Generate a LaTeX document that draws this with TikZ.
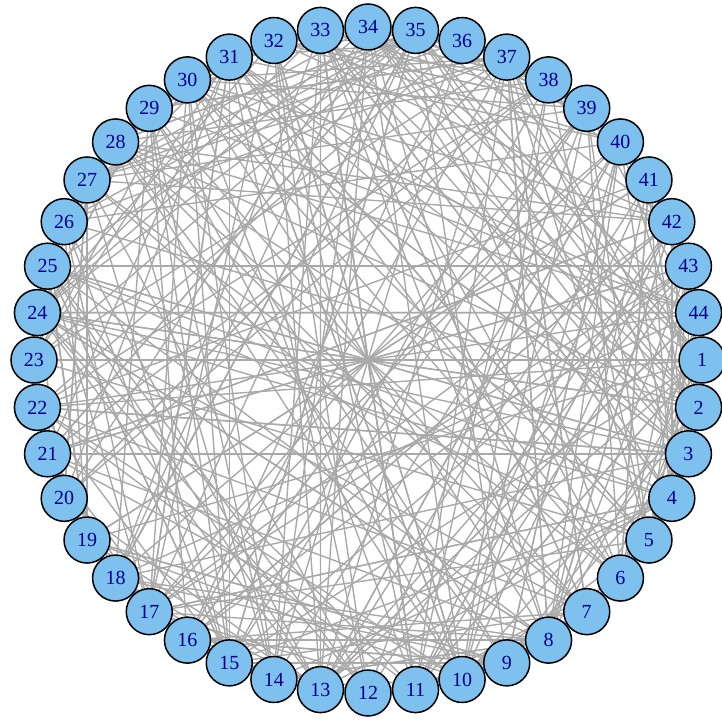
\documentclass[tikz,border=0pt]{standalone}
\usepackage{fontspec}
\setmainfont{Liberation Serif}
\usetikzlibrary{backgrounds}
\definecolor{vertexblue}{HTML}{7EC0EE}
\definecolor{vertexlabel}{HTML}{00008B}
\definecolor{edgegray}{HTML}{A9A9A9}
\tikzset{
  vertex/.style={circle, draw=black, line width=0.75pt, fill=vertexblue,
    minimum size=23pt, inner sep=0pt, text=vertexlabel,
    font=\fontsize{10}{12}\selectfont},
  edge/.style={draw=edgegray, line width=0.7pt}
}
\begin{document}
\begin{tikzpicture}[x=0.5pt, y=-0.5pt]
            \useasboundingbox (0,0) rectangle (721,721);
            % vertices on the circle, 1 at the right, counted clockwise
            \foreach \i in {1,...,44}
              \node[vertex] (n\i) at ({368+334*cos(360*(\i-1)/44)},{360+333*sin(360*(\i-1)/44)}) {\i};
            \begin{scope}[on background layer]
              \pgfmathsetseed{4412}
              \foreach \k in {1,...,370}{
                \pgfmathtruncatemacro\a{random(1,44)}
                \pgfmathtruncatemacro\b{mod(\a+random(1,43)-1,44)+1}
                \draw[edge] (n\a) -- (n\b);
              }
              % the diameters through the middle
              \foreach \a in {1,3,6,8,11,14,17,19,21}{
                \pgfmathtruncatemacro\b{\a+22}
                \draw[edge] (n\a) -- (n\b);
              }
            \end{scope}
        \end{tikzpicture}
\end{document}
